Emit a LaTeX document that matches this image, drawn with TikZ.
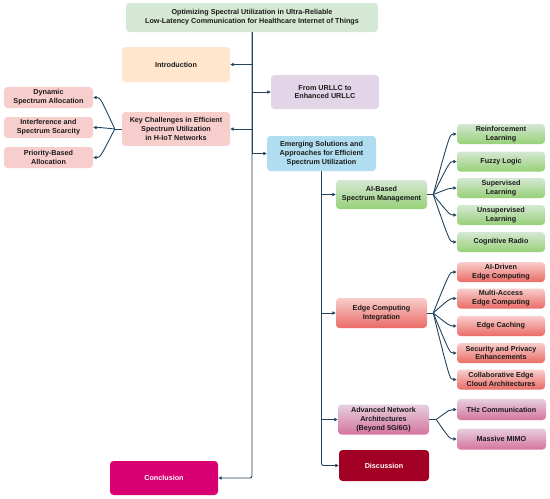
\documentclass[tikz,border=0pt]{standalone}
\usepackage{fontspec}
\setmainfont{Liberation Sans}
\usetikzlibrary{calc,arrows.meta,positioning}
\definecolor{lineblue}{HTML}{23445D}
\definecolor{titlegreen}{HTML}{D5E8D4}
\definecolor{introorange}{HTML}{FFE6CC}
\definecolor{urllcpurple}{HTML}{E1D5E7}
\definecolor{keyred}{HTML}{F8CECC}
\definecolor{emergblue}{HTML}{B1DDF0}
\definecolor{gtop}{HTML}{D5E8D4}
\definecolor{gbot}{HTML}{97D077}
\definecolor{rtop}{HTML}{F8CECC}
\definecolor{rbot}{HTML}{EA6B66}
\definecolor{ptop}{HTML}{E6D0DE}
\definecolor{pbot}{HTML}{D5739D}
\definecolor{discred}{HTML}{A20025}
\definecolor{conclpink}{HTML}{D80073}
\definecolor{txt}{HTML}{1A1A1A}
\tikzset{
  box/.style={rounded corners=3.5pt, align=center, inner sep=1pt, text=txt,
    font=\fontsize{7.2}{8.8}\selectfont\bfseries},
  flatbox/.style={box, fill=#1},
  greenbox/.style={box, top color=gtop, bottom color=gbot},
  redbox/.style={box, top color=rtop, bottom color=rbot},
  pinkbox/.style={box, top color=ptop, bottom color=pbot},
  line/.style={draw=lineblue, line width=0.9pt},
  conn/.style={line, -{Triangle[length=3.5pt,width=3.2pt]}},
}
\begin{document}
\begin{tikzpicture}[x=1pt,y=-1pt]
\useasboundingbox (0,0) rectangle (550,499);
% main column
\node[flatbox=titlegreen, minimum width=252pt, minimum height=29pt] (title) at (252,17.5)
  {Optimizing Spectral Utilization in Ultra-Reliable\\Low-Latency Communication for Healthcare Internet of Things};
\node[flatbox=introorange, minimum width=108pt, minimum height=35pt] (intro) at (176,64.5) {Introduction};
\node[flatbox=urllcpurple, minimum width=108pt, minimum height=34pt] (urllc) at (325,92) {From URLLC to\\Enhanced URLLC};
\node[flatbox=keyred, minimum width=108pt, minimum height=34pt] (key) at (176,129)
  {Key Challenges in Efficient\\Spectrum Utilization\\in H-IoT Networks};
\node[flatbox=keyred, minimum width=89pt, minimum height=21pt] (dyn) at (48.5,97.5) {Dynamic\\Spectrum Allocation};
\node[flatbox=keyred, minimum width=89pt, minimum height=21pt] (intf) at (48.5,127.5) {Interference and\\Spectrum Scarcity};
\node[flatbox=keyred, minimum width=89pt, minimum height=21pt] (prio) at (48.5,157.5) {Priority-Based\\Allocation};
\node[flatbox=emergblue, minimum width=109pt, minimum height=35pt] (emerg) at (321.5,153.5)
  {Emerging Solutions and\\Approaches for Efficient\\Spectrum Utilization};
\node[box, fill=conclpink, text=white, minimum width=108pt, minimum height=34pt] (concl) at (164,478) {Conclusion};
% AI-based
\node[greenbox, minimum width=91pt, minimum height=29pt] (ai) at (381.5,194.5) {AI-Based\\Spectrum Management};
\node[greenbox, minimum width=88pt, minimum height=20pt] (g1) at (501,134) {Reinforcement\\Learning};
\node[greenbox, minimum width=88pt, minimum height=20pt] (g2) at (501,161.5) {Fuzzy Logic};
\node[greenbox, minimum width=88pt, minimum height=20pt] (g3) at (501,188) {Supervised\\Learning};
\node[greenbox, minimum width=88pt, minimum height=20pt] (g4) at (501,215) {Unsupervised\\Learning};
\node[greenbox, minimum width=88pt, minimum height=20pt] (g5) at (501,242) {Cognitive Radio};
% Edge
\node[redbox, minimum width=91pt, minimum height=30pt] (edge) at (381.5,313) {Edge Computing\\Integration};
\node[redbox, minimum width=88pt, minimum height=20pt] (r1) at (501,272) {AI-Driven\\Edge Computing};
\node[redbox, minimum width=88pt, minimum height=20pt] (r2) at (501,298.5) {Multi-Access\\Edge Computing};
\node[redbox, minimum width=88pt, minimum height=20pt] (r3) at (501,326) {Edge Caching};
\node[redbox, minimum width=88pt, minimum height=20pt] (r4) at (501,353) {Security and Privacy\\Enhancements};
\node[redbox, minimum width=88pt, minimum height=20pt] (r5) at (501,379.5) {Collaborative Edge\\Cloud Architectures};
% Advanced
\node[pinkbox, minimum width=91pt, minimum height=30pt] (adv) at (383.5,419.5)
  {Advanced Network\\Architectures\\(Beyond 5G/6G)};
\node[pinkbox, minimum width=89pt, minimum height=21pt] (p1) at (501.5,409.5) {THz Communication};
\node[pinkbox, minimum width=89pt, minimum height=21pt] (p2) at (501.5,439) {Massive MIMO};
\node[box, fill=discred, text=white, minimum width=90pt, minimum height=31pt] (disc) at (384,465.5) {Discussion};
% trunk connectors
\draw[conn] (title.south) |- (intro.east);
\draw[conn] (title.south) |- (urllc.west);
\draw[conn] (title.south) |- (key.east);
\draw[conn] (title.south) |- (emerg.west);
\draw[conn, rounded corners=2pt] (title.south) |- (concl.east);
% sub-trunk
\draw[conn] (emerg.south) |- (ai.west);
\draw[conn] (emerg.south) |- (edge.west);
\draw[conn] (emerg.south) |- (adv.west);
\draw[conn, rounded corners=2pt] (emerg.south) |- (disc.west);
% left fork
\draw[line] (key.west) -- ++(-7,0) coordinate (kf);
\foreach \c in {dyn,intf,prio}
  \draw[conn] (kf) .. controls ($(\c.east)+(7,0)$) .. (\c.east);
% AI fork
\draw[line] (ai.east) -- ++(6,0) coordinate (af);
\foreach \c in {g1,g2,g3,g4,g5}
  \draw[conn] (af) .. controls ($(\c.west)+(-7,0)$) .. (\c.west);
% Edge fork
\draw[line] (edge.east) -- ++(6,0) coordinate (ef);
\foreach \c in {r1,r2,r3,r4,r5}
  \draw[conn] (ef) .. controls ($(\c.west)+(-7,0)$) .. (\c.west);
% Advanced fork
\draw[line] (adv.east) -- ++(7,0) coordinate (pf);
\foreach \c in {p1,p2}
  \draw[conn] (pf) .. controls ($(\c.west)+(-7,0)$) .. (\c.west);
\end{tikzpicture}
\end{document}
